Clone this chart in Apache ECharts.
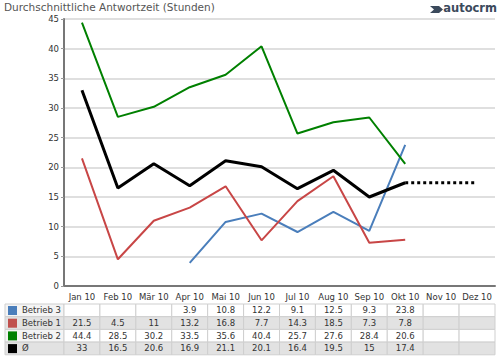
<!DOCTYPE html>
<html><head><meta charset="utf-8">
<script src="https://cdn.jsdelivr.net/npm/echarts@6/dist/echarts.min.js"></script>
<style>html,body{margin:0;padding:0;background:#fff}#c{width:500px;height:357px}</style>
</head><body><div id="c"></div>
<script>
var months = ["Jan 10","Feb 10","Mär 10","Apr 10","Mai 10","Jun 10","Jul 10","Aug 10","Sep 10","Okt 10","Nov 10","Dez 10"];
var betrieb3 = [null,null,null,3.9,10.8,12.2,9.1,12.5,9.3,23.8,null,null];
var betrieb1 = [21.5,4.5,11,13.2,16.8,7.7,14.3,18.5,7.3,7.8,null,null];
var betrieb2 = [44.4,28.5,30.2,33.5,35.6,40.4,25.7,27.6,28.4,20.6,null,null];
var avg = [33,16.5,20.6,16.9,21.1,20.1,16.4,19.5,15,17.4,null,null];
var avgProjection = [null,null,null,null,null,null,null,null,null,17.4,17.4,17.4];
var yTicks = [0,5,10,15,20,25,30,35,40,45];
var titleText = "Durchschnittliche Antwortzeit (Stunden)";
var rows = [
  {name:"Betrieb 3", color:"#4a7ebb", data:betrieb3},
  {name:"Betrieb 1", color:"#c0504d", data:betrieb1},
  {name:"Betrieb 2", color:"#008000", data:betrieb2},
  {name:"Ø", color:"#000000", data:avg}
];
var FONT = "DejaVu Sans";
var chart = echarts.init(document.getElementById('c'), null, {renderer:'svg'});
function lineSeries(name, data, color, width, type){
  return {name:name, type:'line', data:data, symbol:'none', smooth:false,
    lineStyle:{color:color, width:width, type:type||'solid'}, itemStyle:{color:color},
    connectNulls:false, animation:false, z: 3};
}
var option = {
  animation:false,
  title:{text:titleText, left:4, top:1, padding:0, textStyle:{fontFamily:FONT, fontSize:10.5, fontWeight:'normal', color:'#555'}},
  grid:{left:64, right:5, top:19, bottom:71},
  xAxis:{type:'category', data:months, boundaryGap:true,
    axisLine:{lineStyle:{color:'#777', width:2}},
    axisTick:{alignWithLabel:true, length:4, lineStyle:{color:'#999'}},
    axisLabel:{fontFamily:FONT, fontSize:8.5, color:'#333', margin:6, interval:0}},
  yAxis:{type:'value', min:yTicks[0], max:yTicks[yTicks.length-1], interval:5,
    axisLine:{show:true, lineStyle:{color:'#777', width:2}},
    axisTick:{show:true, length:3, lineStyle:{color:'#999'}},
    splitLine:{lineStyle:{color:'#d4d4d4', width:1.5}},
    axisLabel:{fontFamily:FONT, fontSize:8.5, color:'#333', margin:5}},
  series:[
    lineSeries('Betrieb 3', betrieb3, '#4a7ebb', 2),
    lineSeries('Betrieb 1', betrieb1, '#c84646', 2),
    lineSeries('Betrieb 2', betrieb2, '#008000', 2),
    lineSeries('Ø', avg, '#000000', 3),
    lineSeries('Ø Prognose', avgProjection, '#000000', 3, [3,3])
  ]
};
chart.setOption(option);

// data table under the chart, columns aligned to the category axis
var c0 = chart.convertToPixel({xAxisIndex:0}, 0);
var c1 = chart.convertToPixel({xAxisIndex:0}, 1);
var band = c1 - c0;
var tableTop = 304, rowH = 12.7, tableLeft = 5;
var firstColRight = c0 - band/2;
var g = [];
rows.forEach(function(r, ri){
  var y = tableTop + ri*rowH;
  var bg = (ri % 2 === 1) ? '#e2e2e2' : '#ffffff';
  g.push({type:'rect', shape:{x:tableLeft, y:y, width:firstColRight-tableLeft, height:rowH},
    style:{fill:(ri%2===1)?'#e2e2e2':'#f4f4f4', stroke:'#cfcfcf', lineWidth:1}});
  g.push({type:'rect', shape:{x:tableLeft+3, y:y+2, width:9, height:9}, style:{fill:r.color}});
  g.push({type:'text', x:tableLeft+17, y:y+rowH/2, style:{text:r.name, font:'8.5px "DejaVu Sans"', fill:'#333', verticalAlign:'middle'}});
  months.forEach(function(m, ci){
    var cx = chart.convertToPixel({xAxisIndex:0}, ci);
    g.push({type:'rect', shape:{x:cx-band/2, y:y, width:band, height:rowH},
      style:{fill:bg, stroke:'#cfcfcf', lineWidth:1}});
    if (r.data[ci] !== null) {
      g.push({type:'text', x:cx, y:y+rowH/2, style:{text:String(r.data[ci]), font:'8.5px "DejaVu Sans"', fill:'#333', align:'center', verticalAlign:'middle'}});
    }
  });
});
// logo
g.push({type:'text', right:3, top:2, style:{text:'autocrm', font:'bold 11.5px "DejaVu Sans"', fill:'#3b4a5c'}});
g.push({type:'polygon', shape:{points:[[430,6],[439,6],[443,9.5],[439,13],[430,13],[434,9.5]]}, style:{fill:'#3b4a5c'}});
chart.setOption({graphic:g});
</script></body></html>
